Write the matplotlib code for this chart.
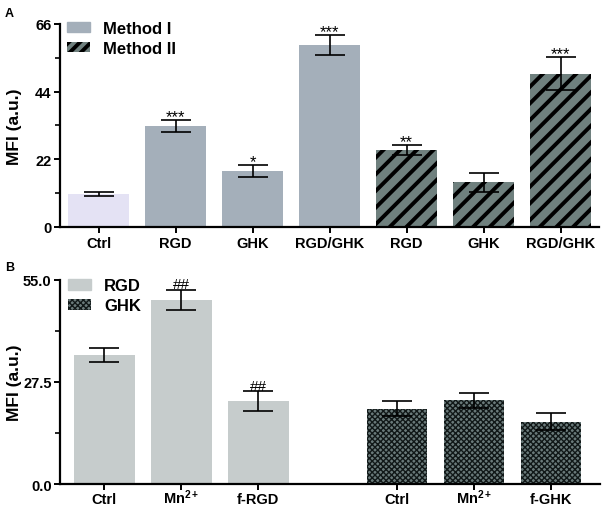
import numpy as np
import matplotlib.pyplot as plt
from matplotlib.patches import Patch

plt.rcParams['font.family'] = ['Liberation Sans', 'DejaVu Sans']
plt.rcParams['mathtext.fontset'] = 'custom'
plt.rcParams['mathtext.rm'] = 'Liberation Sans'
plt.rcParams['mathtext.bf'] = 'Liberation Sans:bold'
plt.rcParams['hatch.color'] = 'black'

# Panel A data
a_labels = ['Ctrl', 'RGD', 'GHK', 'RGD/GHK', 'RGD', 'GHK', 'RGD/GHK']
a_vals = [10.7, 32.9, 18.3, 59.2, 25.1, 14.5, 49.9]
a_err = [0.6, 2.0, 1.9, 3.3, 1.6, 3.0, 5.5]
a_sig = ['', '***', '*', '***', '**', '', '***']

# Panel B data
b_labels = ['Ctrl', r'$\mathbf{Mn^{2+}}$', 'f-RGD', 'Ctrl', r'$\mathbf{Mn^{2+}}$', 'f-GHK']
rgd_vals = [34.8, 49.5, 22.3]
rgd_err = [1.9, 2.7, 2.6]
ghk_vals = [20.3, 22.5, 16.8]
ghk_err = [1.9, 2.0, 2.2]
b_sig = ['', '##', '##']

c_ctrl = '#e4e2f4'
c_m1 = '#a4afba'
c_m2 = '#6f807e'
c_rgd = '#c6cccc'
c_ghk = '#6a7a7a'

fig = plt.figure(figsize=(6.03, 5.10), dpi=100)
axA = fig.add_axes([0.0995, 0.553, 0.894, 0.398])
axB = fig.add_axes([0.0995, 0.049, 0.896, 0.401])

def style(ax, xpos, labels, ybase):
    for s in ['top', 'right']:
        ax.spines[s].set_visible(False)
    for s in ['left', 'bottom']:
        ax.spines[s].set_linewidth(1.6)
    ax.tick_params(axis='both', which='major', length=4.5, width=1.4, labelsize=10.5)
    ax.tick_params(axis='y', pad=1.5)
    ax.tick_params(axis='y', which='minor', length=3.5, width=1.2)
    for lab in ax.get_yticklabels():
        lab.set_fontweight('bold')
    # category labels placed on a common baseline
    ax.set_xticks(xpos)
    ax.set_xticklabels([])
    for x, lab in zip(xpos, labels):
        ax.text(x, ybase, lab, transform=ax.get_xaxis_transform(), ha='center',
                va='baseline', fontsize=10.5, fontweight='bold')
    ax.set_ylabel('MFI (a.u.)', fontsize=12.5, fontweight='bold')
    ax.yaxis.set_label_coords(-0.070, 0.5)

# ---- Panel A
xa = np.arange(len(a_vals))
colors = [c_ctrl, c_m1, c_m1, c_m1, c_m2, c_m2, c_m2]
hatches = [None, None, None, None, '//', '//', '//']
plt.rcParams['hatch.linewidth'] = 2.8
for i in range(len(xa)):
    axA.bar(xa[i], a_vals[i], width=0.79, color=colors[i], hatch=hatches[i],
            edgecolor='black' if hatches[i] else colors[i], linewidth=0)
axA.errorbar(xa, a_vals, yerr=a_err, fmt='none', ecolor='black', elinewidth=1.2,
             capsize=11, capthick=1.2)
for i in range(len(xa)):
    if a_sig[i]:
        axA.annotate(a_sig[i], (xa[i], a_vals[i] + a_err[i]), xytext=(0, -3),
                     textcoords='offset points', ha='center', va='bottom', fontsize=12)
axA.set_xlim(-0.5, 6.5)
axA.set_ylim(0, 66)
axA.set_yticks([0, 22, 44, 66])
axA.set_yticks([11, 33, 55], minor=True)
style(axA, xa, a_labels, -0.098)
hA = [Patch(facecolor=c_m1, edgecolor=c_m1, label='Method I'),
      Patch(facecolor=c_m2, edgecolor='black', hatch='///', linewidth=0, label='Method II')]
axA.legend(handles=hA, loc='upper left', bbox_to_anchor=(0.013, 1.015), frameon=False,
           borderaxespad=0, borderpad=0,
           prop={'weight': 'bold', 'size': 12}, handlelength=1.35, handleheight=0.5,
           handletextpad=0.8, labelspacing=0.3)

# ---- Panel B
xr = np.array([0, 1, 2])
xg = np.array([3.8, 4.8, 5.8])
axB.bar(xr, rgd_vals, width=0.79, color=c_rgd, linewidth=0)
plt.rcParams['hatch.linewidth'] = 1.0
axB.bar(xg, ghk_vals, width=0.79, color=c_ghk, hatch='xxxxxx', edgecolor='#111818', linewidth=0)
axB.errorbar(xr, rgd_vals, yerr=rgd_err, fmt='none', ecolor='black', elinewidth=1.2,
             capsize=11, capthick=1.2)
axB.errorbar(xg, ghk_vals, yerr=ghk_err, fmt='none', ecolor='black', elinewidth=1.2,
             capsize=11, capthick=1.2)
for i in range(3):
    if b_sig[i]:
        axB.annotate(b_sig[i], (xr[i], rgd_vals[i] + rgd_err[i]), xytext=(0, -1),
                     textcoords='offset points', ha='center', va='bottom', fontsize=11)
axB.set_xlim(-0.575, 6.44)
axB.set_ylim(0, 55)
axB.set_yticks([0, 27.5, 55])
axB.set_yticklabels(['0.0', '27.5', '55.0'])
axB.set_yticks([13.75, 41.25], minor=True)
style(axB, np.concatenate([xr, xg]), b_labels, -0.093)
hB = [Patch(facecolor=c_rgd, edgecolor=c_rgd, label='RGD'),
      Patch(facecolor=c_ghk, edgecolor='#111818', hatch='xxxxxx', linewidth=0, label='GHK')]
axB.legend(handles=hB, loc='upper left', bbox_to_anchor=(0.015, 1.005), frameon=False,
           borderaxespad=0, borderpad=0,
           prop={'weight': 'bold', 'size': 12}, handlelength=1.35, handleheight=0.6,
           handletextpad=0.8, labelspacing=0.3)

fig.text(0.008, 0.985, 'A', fontsize=9, fontweight='bold', va='top')
fig.text(0.008, 0.487, 'B', fontsize=9, fontweight='bold', va='top')

fig.savefig('out.png', dpi=100)
